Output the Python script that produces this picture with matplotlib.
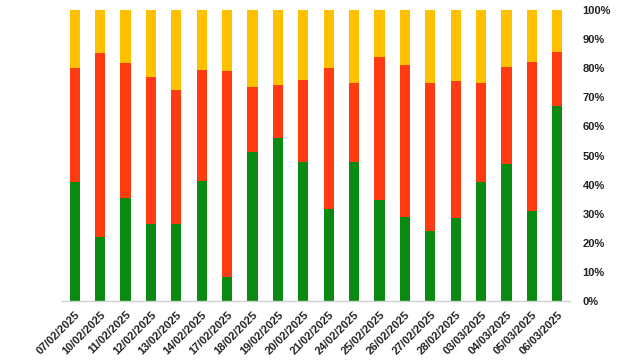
import matplotlib
matplotlib.use("Agg")
import matplotlib.pyplot as plt
import numpy as np
from matplotlib.ticker import PercentFormatter

dates = ["07/02/2025", "10/02/2025", "11/02/2025", "12/02/2025", "13/02/2025",
         "14/02/2025", "17/02/2025", "18/02/2025", "19/02/2025", "20/02/2025",
         "21/02/2025", "24/02/2025", "25/02/2025", "26/02/2025", "27/02/2025",
         "28/02/2025", "03/03/2025", "04/03/2025", "05/03/2025", "06/03/2025"]
green = [41.0, 22.0, 35.5, 26.5, 26.5, 41.2, 8.2, 51.3, 56.1, 47.8,
         31.6, 47.8, 34.7, 28.9, 24.1, 28.5, 40.9, 47.1, 30.9, 67.0]
red_top = [80.1, 85.2, 81.8, 77.0, 72.5, 79.4, 79.0, 73.5, 74.2, 75.9,
           80.1, 74.9, 83.8, 81.1, 74.9, 75.6, 74.9, 80.4, 82.1, 85.6]
red = [rt - g for rt, g in zip(red_top, green)]
yellow = [100 - rt for rt in red_top]

plt.rcParams['font.family'] = ['Liberation Sans', 'DejaVu Sans']

fig = plt.figure(figsize=(6.4, 3.61), dpi=100)
ax = fig.add_axes([62/640, 60/361, 508/640, 291/361])

x = np.arange(len(dates))
w = 0.4
ax.bar(x, green, w, color='#0b8a12')
ax.bar(x, red, w, bottom=green, color='#ff3b12')
ax.bar(x, yellow, w, bottom=red_top, color='#ffc000')

ax.set_xlim(-0.5, len(dates) - 0.5)
ax.set_ylim(0, 100)
ax.set_yticks(np.arange(0, 101, 10))
ax.yaxis.set_major_formatter(PercentFormatter(decimals=0))
ax.yaxis.tick_right()
ax.tick_params(axis='y', length=0, pad=9, labelsize=8, labelcolor='#222222')
for lab in ax.get_yticklabels():
    lab.set_fontweight('bold')
    lab.set_horizontalalignment('left')

ax.set_xticks(x)
ax.set_xticklabels(dates, rotation=45, ha='right', rotation_mode='anchor',
                   fontsize=8, fontweight='bold', color='#222222')
ax.tick_params(axis='x', length=0, pad=6)

for s in ['top', 'right', 'left']:
    ax.spines[s].set_visible(False)
ax.spines['bottom'].set_color('#d0d0d0')
ax.spines['bottom'].set_linewidth(1)

fig.savefig('out.png', dpi=100)
